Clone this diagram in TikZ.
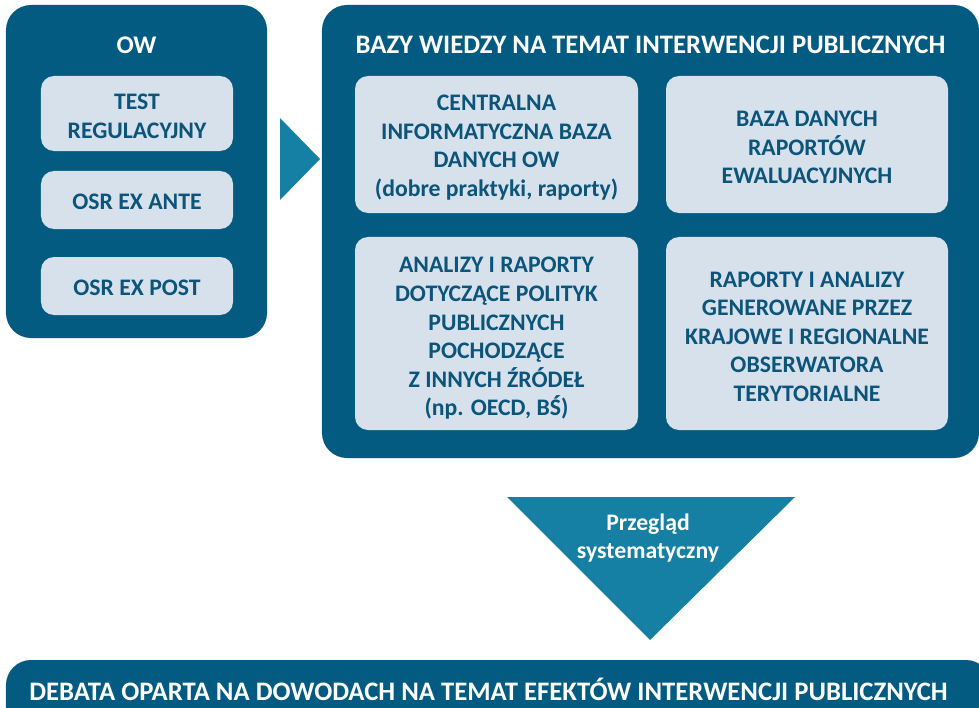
\documentclass[tikz,border=0pt]{standalone}
\usepackage{fontspec}
\setmainfont{Carlito}
\definecolor{dk}{HTML}{045B82}
\definecolor{lt}{HTML}{D6E1EC}
\definecolor{tri}{HTML}{167FA4}
\definecolor{txt}{HTML}{0C5479}
\tikzset{
  outerbox/.style={fill=dk, rounded corners=25bp, inner sep=0pt, minimum width=#1},
  innerbox/.style={fill=lt, rounded corners=13bp, inner sep=0pt},
  boxtext/.style={text=txt, align=center, inner sep=0pt,
     font=\bfseries\fontsize{23.8}{28.7}\selectfont},
  titletext/.style={text=white, font=\bfseries\fontsize{26.8}{30}\selectfont, inner sep=0pt},
}
\begin{document}
\begin{tikzpicture}[x=1bp,y=-1bp]
\useasboundingbox (0,0) rectangle (979,708);
\clip (0,0) rectangle (979,708);
% left box
\node[outerbox=261bp, minimum height=333bp] (ow) at (136.5,171.5) {};
\node[titletext, font=\bfseries\fontsize{25.5}{30}\selectfont] (owt) at (136.5,45) {OW};
\node[innerbox, minimum width=192bp, minimum height=75bp] (test) at (137,113.5) {};
\node[boxtext] (testt) at ([yshift=-3bp]test.center) {TEST\\REGULACYJNY};
\node[innerbox, minimum width=192bp, minimum height=58bp] (ante) at (137,200) {};
\node[boxtext] (antet) at ([yshift=-2bp]ante.center) {OSR EX ANTE};
\node[innerbox, minimum width=192bp, minimum height=58bp] (post) at (137,286) {};
\node[boxtext] (postt) at ([yshift=-2bp]post.center) {OSR EX POST};
% arrow right
\fill[tri] (280,118) -- (320,159) -- (280,200) -- cycle;
% big box
\node[outerbox=657bp, minimum height=453bp] (bazy) at (650.5,231.5) {};
\node[titletext] (bazyt) at (650.5,45) {BAZY WIEDZY NA TEMAT INTERWENCJI PUBLICZNYCH};
\node[innerbox, minimum width=283bp, minimum height=137bp] (b1) at (496.5,144.5) {};
\node[boxtext] (b1t) at ([yshift=-3bp]b1.center)
  {CENTRALNA\\INFORMATYCZNA BAZA\\DANYCH OW\\(dobre praktyki, raporty)};
\node[innerbox, minimum width=282bp, minimum height=137bp] (b2) at (807,144.5) {};
\node[boxtext] (b2t) at ([yshift=-3bp]b2.center)
  {BAZA DANYCH\\RAPORTÓW\\EWALUACYJNYCH};
\node[innerbox, minimum width=283bp, minimum height=193bp] (b3) at (496.5,333.5) {};
\node[boxtext] (b3t) at ([yshift=-5bp]b3.center)
  {ANALIZY I RAPORTY\\DOTYCZĄCE POLITYK\\PUBLICZNYCH\\POCHODZĄCE\\Z INNYCH ŹRÓDEŁ\\(np. OECD, BŚ)};
\node[innerbox, minimum width=282bp, minimum height=193bp] (b4) at (807,333.5) {};
\node[boxtext] (b4t) at ([yshift=-3bp]b4.center)
  {RAPORTY I ANALIZY\\GENEROWANE PRZEZ\\KRAJOWE I REGIONALNE\\OBSERWATORA\\TERYTORIALNE};
% down triangle
\fill[tri] (507,497) -- (795,497) -- (650,640) -- cycle;
\node[text=white, align=center, inner sep=0pt, font=\bfseries\fontsize{23.8}{28.5}\selectfont] (prz) at (648,538) {Przegląd\\systematyczny};
% bottom bar
\node[outerbox=985bp, minimum height=80bp] (deb) at (498.5,700) {};
\node[titletext] (debt) at (488.5,689) {DEBATA OPARTA NA DOWODACH NA TEMAT EFEKTÓW INTERWENCJI PUBLICZNYCH};
\end{tikzpicture}
\end{document}
